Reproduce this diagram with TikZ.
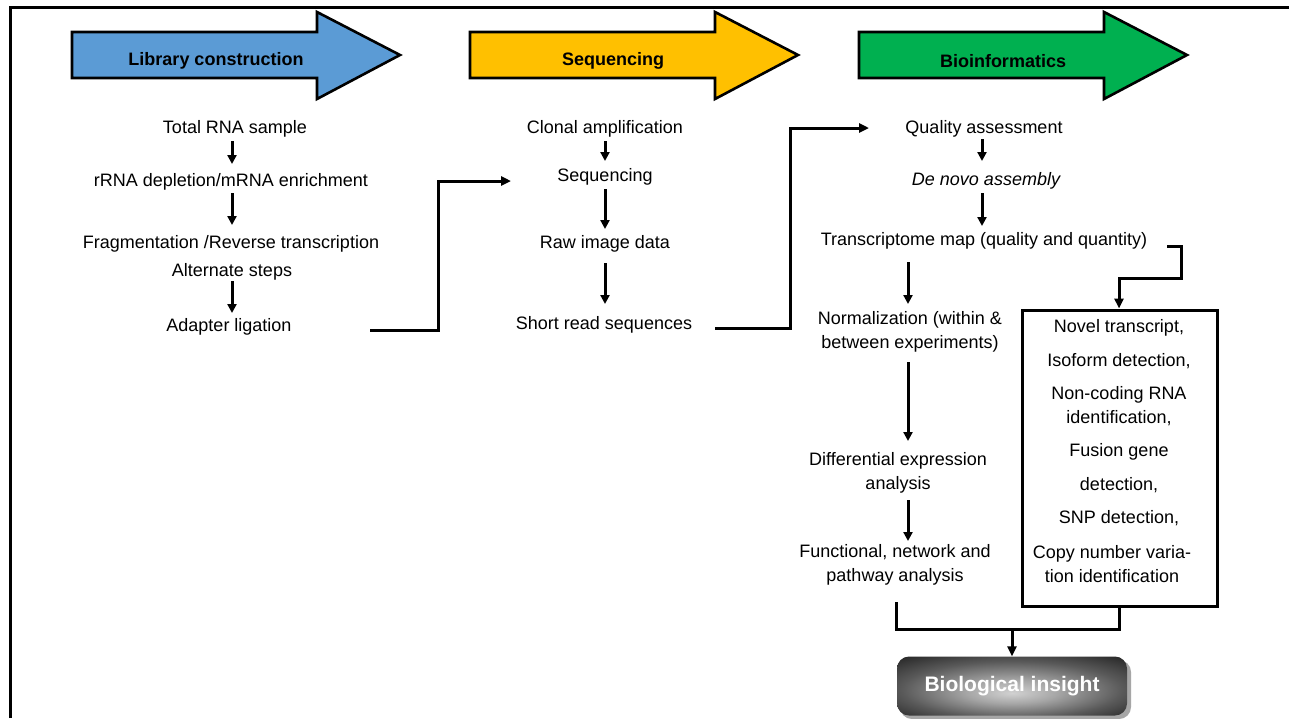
\documentclass[tikz,border=0pt]{standalone}
\usepackage{fontspec}
\setmainfont{Liberation Sans}
\usetikzlibrary{arrows.meta}
\pgfdeclareradialshading{bioshade}{\pgfpoint{0bp}{-6bp}}{%
  color(0bp)=(black!18); color(10bp)=(black!35); color(24bp)=(black!65);
  color(38bp)=(black!88); color(50bp)=(black)}
\begin{document}
\begin{tikzpicture}[x=1pt,y=-1pt,
  txt/.style={font=\fontsize{18}{24}\selectfont, align=center, inner sep=0pt},
  hdr/.style={font=\fontsize{18}{22}\selectfont\bfseries, inner sep=0pt},
  conn/.style={line width=3pt, -{Triangle[length=10pt,width=9pt]}},
  flow/.style={line width=3pt, -{Triangle[length=9pt,width=9pt]}},
  plain/.style={line width=3pt},
  bigarrow/.style={draw=black, line width=2.6pt, line join=miter}
]
\useasboundingbox (0,0) rectangle (1289,718);
\fill[white] (0,0) rectangle (1289,718);
% frame
\draw[line width=3pt] (10,718) -- (10,7) -- (1289,7);

% header arrows
\newcommand{\hdrarrow}[2]{%
  \filldraw[bigarrow, fill=#2] (#1,32) -- (#1+245,32) -- (#1+245,12) -- (#1+328,55)
    -- (#1+245,99) -- (#1+245,78) -- (#1,78) -- cycle;}
\definecolor{cblue}{RGB}{91,155,213}
\definecolor{cyellow}{RGB}{255,192,0}
\definecolor{cgreen}{RGB}{0,176,80}
\hdrarrow{72}{cblue}
\hdrarrow{470}{cyellow}
\hdrarrow{859}{cgreen}
\node[hdr] (h1) at (216,61) {Library construction};
\node[hdr] (h2) at (613,61) {Sequencing};
\node[hdr] (h3) at (1003,61) {Bioinformatics};

% left column
\node[txt] (a1) at (235,129) {Total RNA sample};
\node[txt] (a2) at (231,182) {rRNA depletion/mRNA enrichment};
\node[txt] (a3) at (231,244) {Fragmentation /Reverse transcription};
\node[txt] (a4) at (232,272) {Alternate steps};
\node[txt] (a5) at (229,327) {Adapter ligation};
\draw[flow] (232,141) -- (232,164);
\draw[flow] (232,193) -- (232,225);
\draw[flow] (232,281) -- (232,313);

% middle column
\node[txt] (b1) at (605,129) {Clonal amplification};
\node[txt] (b2) at (605,177) {Sequencing};
\node[txt] (b3) at (605,244) {Raw image data};
\node[txt] (b4) at (604,325) {Short read sequences};
\draw[flow] (605,141) -- (605,161);
\draw[flow] (605,189) -- (605,229);
\draw[flow] (605,263) -- (605,304);

% right column
\node[txt] (c1) at (984,129) {Quality assessment};
\node[txt, font=\fontsize{18}{24}\selectfont\itshape] (c2) at (986,181) {De novo assembly};
\node[txt] (c3) at (984,241) {Transcriptome map (quality and quantity)};
\node[txt] (c4) at (910,332) {Normalization (within \&\\between experiments)};
\node[txt] (c5) at (898,473) {Differential expression\\analysis};
\node[txt] (c6) at (895,565) {Functional, network and\\pathway analysis};
\draw[flow] (982,139) -- (982,161);
\draw[flow] (982,193) -- (982,226);
\draw[flow] (908,262) -- (908,304);
\draw[flow] (908,362) -- (908,441);
\draw[flow] (908,500) -- (908,541);

% box
\node[draw, line width=3pt, minimum width=195pt, minimum height=296pt, inner sep=0pt] (box) at (1119.5,458) {};
\node[txt] (d1) at (1119,328) {Novel transcript,};
\node[txt] (d2) at (1119,361) {Isoform detection,};
\node[txt] (d3) at (1119,406) {Non-coding RNA\\identification,};
\node[txt] (d4) at (1119,452) {Fusion gene};
\node[txt] (d5) at (1119,485) {detection,};
\node[txt] (d6) at (1119,518) {SNP detection,};
\node[txt] (d7) at (1112,564) {Copy number varia-\\tion identification};

% insight
\fill[black!35, rounded corners=12pt] (900,660) rectangle (1131,719);
\node[rounded corners=12pt, shading=bioshade,
  minimum width=230pt, minimum height=59pt, inner sep=0pt,
  font=\fontsize{21}{24}\selectfont\bfseries, text=white] (bio) at (1012,686) {Biological insight};

% connectors
\coordinate (p1) at (370,330);
\coordinate (p2) at (438,330);
\coordinate (p3) at (438,181);
\coordinate (p4) at (511,181);
\draw[conn] (p1) -- (p2) -- (p3) -- (p4);
\coordinate (q1) at (715,328);
\coordinate (q2) at (790,328);
\coordinate (q3) at (790,128);
\coordinate (q4) at (869,128);
\draw[conn] (q1) -- (q2) -- (q3) -- (q4);
\coordinate (r1) at (1167,246);
\coordinate (r2) at (1181,246);
\coordinate (r3) at (1181,278);
\coordinate (r4) at (1119,278);
\draw[conn] (r1) -- (r2) -- (r3) -- (r4) -- (r4 |- box.north);
\coordinate (s1) at (896,602);
\coordinate (s2) at (896,629);
\coordinate (s3) at (1119,629);
\coordinate (s4) at (1012,629);
\draw[plain] (s1) -- (s2) -- (s3) -- (s3 |- box.south);
\draw[conn] (s4) -- (bio.north -| s4);
\end{tikzpicture}
\end{document}
